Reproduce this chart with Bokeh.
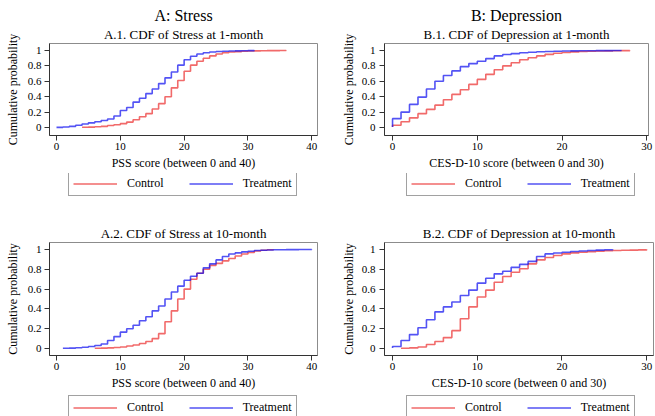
from bokeh.plotting import figure
from bokeh.models import (Range1d, FixedTicker, Legend, LegendItem, Title,
                          CustomJSTickFormatter)
from bokeh.layouts import column, row
from bokeh.embed import file_html
from bokeh.resources import INLINE

# ---------------- data ----------------
# A.1 Stress at 1-month (PSS score)
a1_ctrl_score = list(range(4, 37))
a1_ctrl_cdf = [0.003, 0.005, 0.01, 0.015, 0.025, 0.035, 0.05, 0.07, 0.10, 0.14,
               0.18, 0.24, 0.31, 0.40, 0.515, 0.61, 0.73, 0.81, 0.86, 0.90,
               0.93, 0.955, 0.97, 0.98, 0.986, 0.99, 0.993, 0.995, 0.997, 0.998,
               0.999, 0.9995, 1.0]
a1_treat_score = list(range(0, 32))
a1_treat_cdf = [0.002, 0.006, 0.015, 0.03, 0.045, 0.06, 0.075, 0.09, 0.11, 0.15,
                0.22, 0.26, 0.33, 0.38, 0.44, 0.50, 0.57, 0.645, 0.72, 0.81,
                0.88, 0.925, 0.955, 0.97, 0.98, 0.987, 0.99, 0.993, 0.995, 0.997,
                0.999, 1.0]

# B.1 Depression at 1-month (CES-D-10 score); first entry = start of the line
b1_ctrl_score = [0] + list(range(0, 29))
b1_ctrl_cdf = [0.005, 0.03, 0.075, 0.125, 0.18, 0.235, 0.29, 0.36, 0.43, 0.49,
               0.56, 0.625, 0.69, 0.75, 0.80, 0.84, 0.88, 0.905, 0.93, 0.95,
               0.965, 0.975, 0.982, 0.987, 0.99, 0.993, 0.995, 0.997, 0.999, 1.0]
b1_treat_score = [0] + list(range(0, 28))
b1_treat_cdf = [0.005, 0.115, 0.20, 0.30, 0.395, 0.50, 0.60, 0.675, 0.735, 0.79,
                0.83, 0.86, 0.895, 0.93, 0.948, 0.96, 0.97, 0.977, 0.983, 0.987,
                0.99, 0.993, 0.995, 0.996, 0.997, 0.998, 0.999, 0.9995, 1.0]

# A.2 Stress at 10-month
a2_ctrl_score = list(range(6, 35))
a2_ctrl_cdf = [0.002, 0.004, 0.006, 0.01, 0.015, 0.025, 0.035, 0.05, 0.07, 0.10,
               0.15, 0.27, 0.38, 0.50, 0.60, 0.70, 0.76, 0.80, 0.84, 0.86,
               0.885, 0.91, 0.935, 0.955, 0.97, 0.985, 0.993, 0.997, 1.0]
a2_treat_score = list(range(1, 41))
a2_treat_cdf = [0.002, 0.004, 0.007, 0.012, 0.02, 0.03, 0.045, 0.08, 0.12, 0.165,
                0.20, 0.235, 0.28, 0.32, 0.38, 0.43, 0.50, 0.57, 0.63, 0.69,
                0.73, 0.76, 0.815, 0.855, 0.895, 0.93, 0.955, 0.966, 0.976, 0.983,
                0.99, 0.993, 0.995, 0.997, 0.998, 0.9985, 0.999, 0.9995, 0.9998, 1.0]

# B.2 Depression at 10-month
b2_ctrl_score = list(range(1, 31))
b2_ctrl_cdf = [0.002, 0.006, 0.015, 0.04, 0.07, 0.11, 0.18, 0.30, 0.42, 0.52,
               0.59, 0.67, 0.727, 0.77, 0.805, 0.855, 0.895, 0.92, 0.94, 0.956,
               0.966, 0.973, 0.978, 0.983, 0.987, 0.99, 0.992, 0.994, 0.996, 1.0]
b2_treat_score = [0] + list(range(0, 27))
b2_treat_cdf = [0.004, 0.02, 0.08, 0.14, 0.21, 0.29, 0.37, 0.42, 0.47, 0.535,
                0.59, 0.66, 0.71, 0.754, 0.78, 0.82, 0.85, 0.88, 0.93, 0.956,
                0.965, 0.973, 0.98, 0.985, 0.99, 0.994, 0.997, 1.0]

y_ticks = [0, 0.2, 0.4, 0.6, 0.8, 1]
stress_ticks = [0, 10, 20, 30, 40]
dep_ticks = [0, 10, 20, 30]
series_labels = ["Control", "Treatment"]

FONT = "Liberation Serif"
RED = "#EB3030"
BLUE = "#1010F0"
LINE_W = 1.6
LINE_A = 0.72


def panel(width, height, mbl, mbr, mbt, mbb, xr, yr, xticks, subtitle, header,
          xlabel, cx, cy, tx, ty, ylab_off):
    p = figure(width=width, height=height, title=None,
               x_range=Range1d(*xr), y_range=Range1d(*yr),
               output_backend="svg", toolbar_location=None,
               min_border_left=mbl, min_border_right=mbr,
               min_border_top=mbt, min_border_bottom=mbb)
    p.xgrid.visible = False
    p.ygrid.visible = False
    p.outline_line_color = "#8c8c8c"
    p.outline_line_width = 1
    p.background_fill_color = "white"
    p.border_fill_color = "white"

    p.add_layout(Title(text=subtitle, align="center", text_font=FONT,
                       text_font_size="13px", text_font_style="normal",
                       text_color="black", standoff=3), "above")
    if header:
        p.add_layout(Title(text=header, align="center", text_font=FONT,
                           text_font_size="16px", text_font_style="normal",
                           text_color="black", standoff=0), "above")

    for ax in (p.xaxis[0], p.yaxis[0]):
        ax.axis_label_text_font = FONT
        ax.axis_label_text_font_size = "12px"
        ax.axis_label_text_font_style = "normal"
        ax.axis_label_text_color = "black"
        ax.major_label_text_font = FONT
        ax.major_label_text_font_size = "11px"
        ax.major_label_text_color = "black"
        ax.major_tick_out = 5
        ax.major_tick_in = 0
        ax.minor_tick_line_color = None
        ax.axis_line_color = "#333333"
        ax.major_tick_line_color = "#333333"

    p.xaxis[0].ticker = FixedTicker(ticks=xticks)
    p.xaxis[0].axis_label = xlabel
    p.xaxis[0].major_label_standoff = 2
    p.xaxis[0].axis_label_standoff = 3

    p.yaxis[0].ticker = FixedTicker(ticks=y_ticks)
    p.yaxis[0].formatter = CustomJSTickFormatter(
        code="return String(Math.round(tick * 10) / 10);")
    p.yaxis[0].axis_label = "Cumulative probability"
    p.yaxis[0].major_label_standoff = ylab_off[0]
    p.yaxis[0].axis_label_standoff = ylab_off[1]

    p.step(cx, cy, mode="after", line_color=RED, line_width=LINE_W,
           line_alpha=LINE_A)
    p.step(tx, ty, mode="after", line_color=BLUE, line_width=LINE_W,
           line_alpha=LINE_A)
    return p


def legend_strip(width, height, loc, cx, cy, tx, ty):
    # The series are attached only as legend keys: the view range lies
    # outside the data, so the strip shows the legend box alone.
    f = figure(width=width, height=height, x_range=Range1d(-3, -2),
               y_range=Range1d(0, 1), output_backend="svg",
               toolbar_location=None, x_axis_location=None,
               y_axis_location=None, min_border=0, min_border_left=0,
               min_border_right=0, min_border_top=0, min_border_bottom=0)
    f.xgrid.visible = False
    f.ygrid.visible = False
    f.outline_line_color = None
    f.background_fill_color = "white"
    f.border_fill_color = "white"
    r_c = f.line(cx, cy, line_color=RED, line_width=LINE_W, line_alpha=LINE_A)
    r_t = f.line(tx, ty, line_color=BLUE, line_width=LINE_W, line_alpha=LINE_A)
    leg = Legend(items=[LegendItem(label=series_labels[0], renderers=[r_c]),
                        LegendItem(label=series_labels[1], renderers=[r_t])],
                 orientation="horizontal", location=loc,
                 glyph_width=44, glyph_height=15, label_height=15,
                 label_standoff=10, spacing=25, padding=4, margin=0,
                 border_line_color="#444444", border_line_width=1,
                 background_fill_alpha=1.0,
                 label_text_font=FONT, label_text_font_size="12px",
                 label_text_color="black")
    f.add_layout(leg, "center")
    return f


pA1 = panel(327, 173, 49, 10, 43, 38, (-1.1, 40.9), (-0.104, 1.091),
            stress_ticks, "A.1. CDF of Stress at 1-month", "A: Stress",
            "PSS score (between 0 and 40)",
            a1_ctrl_score, a1_ctrl_cdf, a1_treat_score, a1_treat_cdf, (3, 5))
pB1 = panel(328, 173, 57, 7, 43, 38, (-0.95, 30.2), (-0.104, 1.091),
            dep_ticks, "B.1. CDF of Depression at 1-month", "B: Depression",
            "CES-D-10 score (between 0 and 30)",
            b1_ctrl_score, b1_ctrl_cdf, b1_treat_score, b1_treat_cdf, (4, 3))
pA2 = panel(327, 185, 49, 10, 35, 37, (-1.1, 40.9), (-0.071, 1.071),
            stress_ticks, "A.2. CDF of Stress at 10-month", None,
            "PSS score (between 0 and 40)",
            a2_ctrl_score, a2_ctrl_cdf, a2_treat_score, a2_treat_cdf, (3, 5))
pB2 = panel(328, 185, 57, 2, 35, 37, (-0.95, 30.8), (-0.071, 1.071),
            dep_ticks, "B.2. CDF of Depression at 10-month", None,
            "CES-D-10 score (between 0 and 30)",
            b2_ctrl_score, b2_ctrl_cdf, b2_treat_score, b2_treat_cdf, (4, 3))

lA1 = legend_strip(327, 34, (68, 11),
                   a1_ctrl_score, a1_ctrl_cdf, a1_treat_score, a1_treat_cdf)
lB1 = legend_strip(328, 34, (79, 11),
                   b1_ctrl_score, b1_ctrl_cdf, b1_treat_score, b1_treat_cdf)
lA2 = legend_strip(327, 24, (68, -4),
                   a2_ctrl_score, a2_ctrl_cdf, a2_treat_score, a2_treat_cdf)
lB2 = legend_strip(328, 24, (79, -4),
                   b2_ctrl_score, b2_ctrl_cdf, b2_treat_score, b2_treat_cdf)

layout = column(row(pA1, pB1), row(lA1, lB1), row(pA2, pB2), row(lA2, lB2))
open("out.html", "w").write(file_html(layout, INLINE))
